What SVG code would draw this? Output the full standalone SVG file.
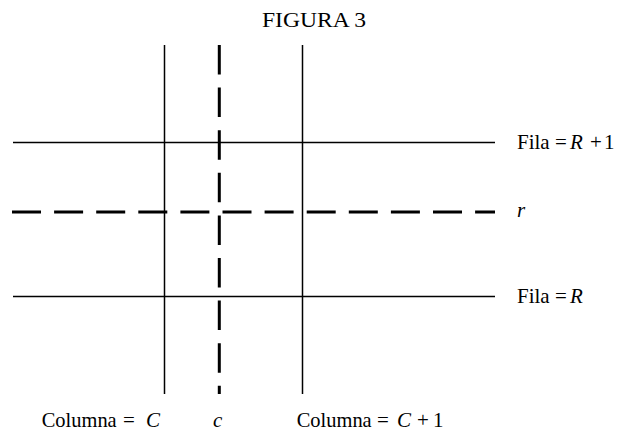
<svg xmlns="http://www.w3.org/2000/svg" width="617" height="434" viewBox="0 0 617 434">
<style>
.solid{stroke:#000;stroke-width:1.5;fill:none}
.dashh{stroke:#000;stroke-width:3;fill:none;stroke-dasharray:29 13.1}
.dashv{stroke:#000;stroke-width:3;fill:none;stroke-dasharray:29.5 13.1}
text{font-family:"Liberation Serif","Times New Roman",serif;font-size:21px;fill:#000}
.it{font-style:italic}
</style>
<rect width="617" height="434" fill="#fff"/>
<g id="title"><text x="262" y="26.5" font-size="22" textLength="104" lengthAdjust="spacingAndGlyphs">FIGURA 3</text></g>
<g id="connectors">
<line id="row-R1" class="solid" x1="13" y1="142.5" x2="495" y2="142.5"/>
<line id="row-r" class="dashh" x1="12" y1="212" x2="495" y2="212"/>
<line id="row-R" class="solid" x1="13" y1="296.5" x2="495" y2="296.5"/>
<line id="col-C" class="solid" x1="164.5" y1="45" x2="164.5" y2="394"/>
<line id="col-c" class="dashv" x1="219.3" y1="45" x2="219.3" y2="394"/>
<line id="col-C1" class="solid" x1="302.5" y1="45" x2="302.5" y2="394"/>
</g>
<g id="label-fila-R1"><text y="149"><tspan x="517">Fila</tspan><tspan x="555">=</tspan><tspan x="570" class="it">R</tspan><tspan x="590">+</tspan><tspan x="604">1</tspan></text></g>
<g id="label-r"><text x="517" y="217" class="it">r</text></g>
<g id="label-fila-R"><text y="303"><tspan x="517">Fila</tspan><tspan x="555">=</tspan><tspan x="570" class="it">R</tspan></text></g>
<g id="label-col-C"><text y="427"><tspan x="41.7" textLength="75" lengthAdjust="spacingAndGlyphs">Columna</tspan><tspan x="123">=</tspan><tspan x="146" class="it">C</tspan></text></g>
<g id="label-c"><text x="213" y="427" class="it">c</text></g>
<g id="label-col-C1"><text y="427"><tspan x="296.7" textLength="75" lengthAdjust="spacingAndGlyphs">Columna</tspan><tspan x="377">=</tspan><tspan x="397" class="it">C</tspan><tspan x="417">+</tspan><tspan x="433">1</tspan></text></g>
</svg>
